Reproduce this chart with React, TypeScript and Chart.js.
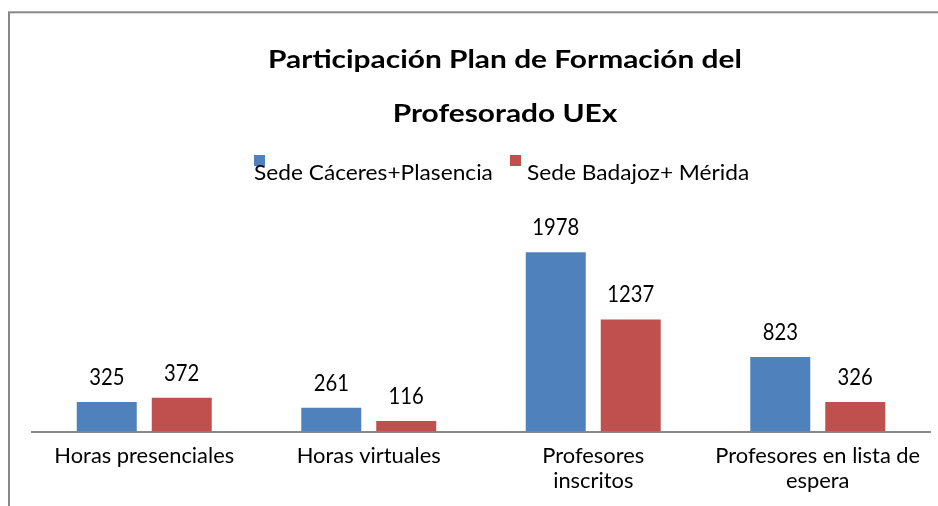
import React, { useEffect, useRef } from "react";
import { Chart, registerables } from "chart.js";

Chart.register(...registerables);

const titleLines = ["Participación Plan de Formación del", "Profesorado UEx"];
const categories = [
  ["Horas presenciales"],
  ["Horas virtuales"],
  ["Profesores", "inscritos"],
  ["Profesores en lista de", "espera"],
];
const seriesNames = ["Sede Cáceres+Plasencia", "Sede Badajoz+ Mérida"];
const caceresValues = [325, 261, 1978, 823];
const badajozValues = [372, 116, 1237, 326];
const seriesColors = ["#4F81BD", "#C0504D"];

const FAMILY = "Lato, 'Open Sans', sans-serif";
const CAP = 0.7165;

function fit(ctx: CanvasRenderingContext2D, sample: string, targetW: number, capH: number, weight: string) {
  ctx.save();
  ctx.font = `${weight} 100px ${FAMILY}`;
  const w = ctx.measureText(sample).width;
  ctx.restore();
  const size = (100 * targetW) / w;
  const sy = capH / (CAP * size);
  return { font: `${weight} ${size}px ${FAMILY}`, sy };
}

function drawText(
  ctx: CanvasRenderingContext2D,
  text: string,
  x: number,
  y: number,
  f: { font: string; sy: number },
  align: CanvasTextAlign
) {
  ctx.save();
  ctx.font = f.font;
  ctx.textAlign = align;
  ctx.textBaseline = "alphabetic";
  ctx.fillStyle = "#000000";
  ctx.translate(x, y);
  ctx.scale(1, f.sy);
  ctx.fillText(text, 0, 0);
  ctx.restore();
}

const decorPlugin = {
  id: "decor",
  beforeDraw(chart: any) {
    const ctx = chart.ctx as CanvasRenderingContext2D;
    ctx.save();
    ctx.fillStyle = "#ffffff";
    ctx.fillRect(0, 0, chart.width, chart.height);
    ctx.strokeStyle = "#888888";
    ctx.lineWidth = 2;
    ctx.strokeRect(9, 12.3, 1200, 1200);
    ctx.restore();
  },
  afterDraw(chart: any) {
    const ctx = chart.ctx as CanvasRenderingContext2D;
    // title
    const tf = fit(ctx, titleLines[0], 474, 18, "bold");
    drawText(ctx, titleLines[0], 505, 68, tf, "center");
    drawText(ctx, titleLines[1], 505, 122, tf, "center");
    // legend
    const lf = fit(ctx, seriesNames[0], 239, 15, "normal");
    const legendItems = [
      { sq: 254, tx: 254 },
      { sq: 510, tx: 527 },
    ];
    legendItems.forEach((it, i) => {
      ctx.fillStyle = seriesColors[i];
      ctx.fillRect(it.sq, 155, 11, 11);
      drawText(ctx, seriesNames[i], it.tx, 180, lf, "left");
    });
    // data labels
    const df = fit(ctx, "1978", 47, 16, "normal");
    chart.data.datasets.forEach((ds: any, di: number) => {
      const meta = chart.getDatasetMeta(di);
      meta.data.forEach((bar: any, i: number) => {
        drawText(ctx, String(ds.data[i]), bar.x, bar.y - 17, df, "center");
      });
    });
    // category labels
    const cf = fit(ctx, categories[0][0], 180, 14.5, "normal");
    const xs = chart.scales.x;
    categories.forEach((lines, i) => {
      const cx = xs.getPixelForValue(i);
      lines.forEach((ln, li) => {
        drawText(ctx, ln, cx, 463 + li * 25, cf, "center");
      });
    });
  },
};

export default function App() {
  const ref = useRef<HTMLCanvasElement>(null);
  useEffect(() => {
    if (!ref.current) return;
    const chart = new Chart(ref.current, {
      type: "bar",
      data: {
        labels: categories.map((c) => c.join(" ")),
        datasets: [
          {
            label: seriesNames[0],
            data: caceresValues,
            backgroundColor: seriesColors[0],
            borderWidth: 0,
          },
          {
            label: seriesNames[1],
            data: badajozValues,
            backgroundColor: seriesColors[1],
            borderWidth: 0,
          },
        ],
      },
      options: {
        responsive: false,
        animation: false,
        devicePixelRatio: 1,
        datasets: {
          bar: { barPercentage: 0.8, categoryPercentage: 0.668 },
        },
        layout: { padding: { left: 32, right: 8, top: 205, bottom: 74.5 } },
        plugins: {
          legend: { display: false },
          title: { display: false },
          tooltip: { enabled: false },
        },
        scales: {
          x: {
            grid: { display: false },
            ticks: { display: false },
            border: { display: true, color: "#888888", width: 2 },
            afterFit: (s: any) => {
              s.height = 0;
            },
          },
          y: {
            display: false,
            min: 0,
            max: 2500,
          },
        },
      },
      plugins: [decorPlugin],
    });
    return () => chart.destroy();
  }, []);
  return (
    <div style={{ position: "absolute", left: 0, top: 0, width: 938, height: 506 }}>
      <canvas ref={ref} width={938} height={506} style={{ display: "block" }} />
    </div>
  );
}
